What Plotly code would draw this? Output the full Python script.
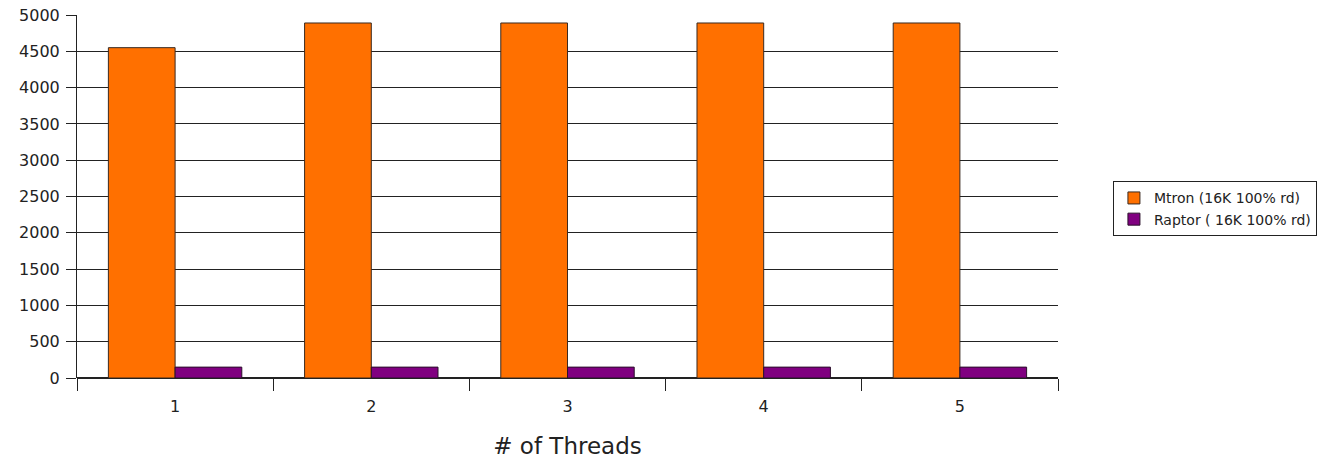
import plotly.graph_objects as go

categories = ["1", "2", "3", "4", "5"]
mtron = [4550, 4890, 4890, 4890, 4890]
raptor = [150, 150, 150, 150, 150]
yticks = [0, 500, 1000, 1500, 2000, 2500, 3000, 3500, 4000, 4500, 5000]

fig = go.Figure()
fig.add_trace(go.Bar(x=categories, y=mtron, name="Mtron (16K 100% rd)",
                     marker=dict(color="#ff7000", line=dict(color="#3a2a20", width=1))))
fig.add_trace(go.Bar(x=categories, y=raptor, name="Raptor ( 16K 100% rd)",
                     marker=dict(color="#800080", line=dict(color="#2a102a", width=1))))

fig.update_layout(
    width=1334, height=461,
    margin=dict(l=77, r=276, t=15, b=83),
    paper_bgcolor="white", plot_bgcolor="white",
    barmode="group", bargap=0.32, bargroupgap=0,
    font=dict(family="DejaVu Sans", size=16, color="#222"),
    legend=dict(x=1.056, y=0.466, xanchor="left", yanchor="middle",
                bordercolor="#222", borderwidth=1, font=dict(size=14),
                tracegroupgap=0, itemwidth=30),
    xaxis=dict(type="category", tickson="boundaries", ticks="outside", ticklen=12,
               tickcolor="#222", showline=False, showgrid=False, ticklabelstandoff=17,
               automargin=False,
               title=dict(text="# of Threads", font=dict(size=23), standoff=22)),
    yaxis=dict(range=[0, 5000], tickvals=yticks, ticks="outside", ticklen=10,
               tickcolor="#222", showgrid=True, gridcolor="#222", gridwidth=1,
               showline=True, linecolor="#222", zeroline=True, zerolinecolor="#222",
               ticklabelstandoff=3, automargin=False),
)
fig.write_html("out.html")
